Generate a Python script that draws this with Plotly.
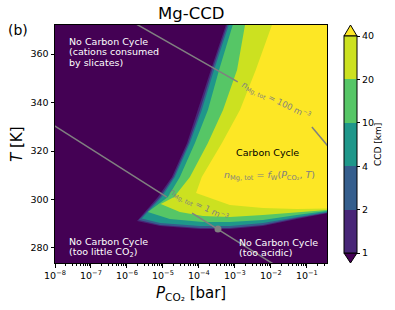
import plotly.graph_objects as go

# ---------------- data ----------------
ccd_levels = [1, 2, 4, 10, 20, 40]
ccd_tick_labels = ["1", "2", "4", "10", "20", "40"]
band_colors = ["#482677", "#355e8d", "#1f978a", "#56c666", "#cce120"]
under_color = "#440154"
over_color = "#fde725"

# boundaries of regions with CCD >= level  (log10 P_CO2 [bar], T [K])
ccd1_logp = [-3.17, -3.25, -3.67, -4.03, -4.33, -4.75, -5.14, -5.72, -5.08, -3.97, -3.14, -2.22, -1.28, -0.08, -0.08]
ccd1_T = [376.1, 372.0, 353.4, 336.9, 323.3, 309.3, 301.0, 291.1, 289.1, 287.8, 287.8, 289.1, 292.0, 295.3, 376.1]
ccd2_logp = [-3.12, -3.21, -3.63, -3.97, -4.29, -4.71, -5.08, -5.67, -5.08, -3.97, -3.14, -2.22, -1.28, -0.08, -0.08]
ccd2_T = [376.1, 372.0, 353.4, 336.9, 323.3, 309.3, 301.0, 291.5, 289.5, 288.2, 288.2, 289.5, 292.4, 295.5, 376.1]
ccd4_logp = [-3.08, -3.17, -3.58, -3.92, -4.25, -4.67, -5.03, -5.59, -5.08, -3.97, -3.14, -2.22, -1.28, -0.08, -0.08]
ccd4_T = [376.1, 372.0, 353.4, 336.9, 323.3, 309.3, 301.0, 292.2, 290.3, 289.1, 289.1, 290.3, 292.8, 295.7, 376.1]
ccd10_logp = [-2.97, -3.06, -3.44, -3.75, -4.11, -4.53, -4.86, -5.42, -4.81, -3.89, -3.14, -2.22, -1.28, -0.08, -0.08]
ccd10_T = [376.1, 372.0, 353.4, 336.9, 323.3, 309.3, 301.0, 294.8, 292.0, 290.7, 290.7, 291.5, 293.6, 295.9, 376.1]
ccd20_logp = [-2.67, -2.72, -2.94, -3.33, -3.75, -4.25, -4.69, -5.06, -4.53, -3.89, -3.14, -2.22, -1.28, -0.08, -0.08]
ccd20_T = [376.1, 372.0, 353.4, 336.9, 323.3, 309.3, 301.0, 298.1, 294.8, 293.2, 292.8, 293.6, 294.8, 296.1, 376.1]
ccd40_logp = [-1.89, -1.97, -2.42, -2.86, -3.36, -3.92, -4.08, -3.56, -3.14, -2.22, -1.28, -0.08, -0.08]
ccd40_T = [376.1, 372.0, 353.4, 336.9, 323.3, 309.3, 302.7, 299.8, 297.7, 296.5, 296.1, 296.3, 376.1]

# n_Mg,tot contour lines (broken where labelled)
nmg100_a_logp = [-6.05, -2.92]
nmg100_a_T = [375.0, 348.5]
nmg100_b_logp = [-0.86, -0.44, -0.40]
nmg100_b_T = [329.9, 322.5, 321.8]
nmg1_a_logp = [-8.2, -4.89]
nmg1_a_T = [332.2, 301.0]
nmg1_b_logp = [-4.19, -1.75]
nmg1_b_T = [294.4, 271.7]
dot_logp = [-3.47]
dot_T = [287.8]

x_tick_exps = [-8, -7, -6, -5, -4, -3, -2, -1]
y_ticks = [280, 300, 320, 340, 360]

# ---------------- layout constants (page pixels) ----------------
W, H = 395, 310
PL, PR, PT, PB = 55, 327, 25, 263
FONT = "DejaVu Sans"
GRAY = "#808080"

def px_x(px):
    return (px - PL) / (PR - PL)

def px_y(py):
    return (PB - py) / (PB - PT)

fig = go.Figure()

regions = [
    (ccd1_logp, ccd1_T, band_colors[0]),
    (ccd2_logp, ccd2_T, band_colors[1]),
    (ccd4_logp, ccd4_T, band_colors[2]),
    (ccd10_logp, ccd10_T, band_colors[3]),
    (ccd20_logp, ccd20_T, band_colors[4]),
    (ccd40_logp, ccd40_T, over_color),
]
for lp, tt, col in regions:
    fig.add_trace(go.Scatter(
        x=[10 ** v for v in lp], y=tt, mode="lines", fill="toself",
        fillcolor=col, line=dict(width=0, color=col), hoverinfo="skip",
        showlegend=False))

for lp, tt in [(nmg100_a_logp, nmg100_a_T), (nmg100_b_logp, nmg100_b_T),
               (nmg1_a_logp, nmg1_a_T), (nmg1_b_logp, nmg1_b_T)]:
    fig.add_trace(go.Scatter(
        x=[10 ** v for v in lp], y=tt, mode="lines",
        line=dict(color=GRAY, width=1.5), hoverinfo="skip", showlegend=False))

fig.add_trace(go.Scatter(
    x=[10 ** v for v in dot_logp], y=dot_T, mode="markers",
    marker=dict(color=GRAY, size=7), hoverinfo="skip", showlegend=False))

# colorbar (equal-spaced bands)
nb = len(band_colors)
cs = []
for i, c in enumerate(band_colors):
    cs.append([i / nb, c])
    cs.append([(i + 1) / nb, c])
cb_top, cb_bot = 36, 253
cb_left, cb_w = 344, 13
fig.add_trace(go.Scatter(
    x=[None], y=[None], mode="markers", showlegend=False, hoverinfo="skip",
    marker=dict(color=[0], cmin=0, cmax=nb, colorscale=cs, showscale=True,
                colorbar=dict(
                    thickness=cb_w, lenmode="pixels", len=cb_bot - cb_top,
                    x=px_x(cb_left), xanchor="left", xpad=0,
                    y=px_y((cb_top + cb_bot) / 2), yanchor="middle", ypad=0,
                    outlinecolor="black", outlinewidth=1,
                    tickmode="array", tickvals=list(range(len(ccd_levels))),
                    ticktext=ccd_tick_labels, ticks="outside", ticklen=3,
                    tickcolor="black", tickfont=dict(size=9.5, family=FONT, color="black"),
                    title=dict(text="", side="right"),
                ))))

shapes = [
    dict(type="path", xref="paper", yref="paper",
         path=f"M {px_x(cb_left)},{px_y(cb_top)} L {px_x(cb_left + cb_w)},{px_y(cb_top)} "
              f"L {px_x(cb_left + cb_w / 2)},{px_y(PT)} Z",
         fillcolor=over_color, line=dict(color="black", width=1)),
    dict(type="path", xref="paper", yref="paper",
         path=f"M {px_x(cb_left)},{px_y(cb_bot)} L {px_x(cb_left + cb_w)},{px_y(cb_bot)} "
              f"L {px_x(cb_left + cb_w / 2)},{px_y(PB)} Z",
         fillcolor=under_color, line=dict(color="black", width=1)),
]

ann = []

def add_lines(lines, x, y, color, xanchor="left", spacing=10.5, size=9.5):
    for i, t in enumerate(lines):
        ann.append(dict(x=x, y=y, xref="x", yref="y", text=t, showarrow=False,
                        xanchor=xanchor, yanchor="middle", yshift=-i * spacing,
                        font=dict(size=size, color=color, family=FONT)))

add_lines(["No Carbon Cycle", "(cations consumed", "by slicates)"], -7.67, 365.2, "white")
add_lines(["No Carbon Cycle", "(too little CO<sub>2</sub>)"], -7.67, 282.5, "white")
add_lines(["No Carbon Cycle", "(too acidic)"], -2.94, 282.3, "white")
add_lines(["Carbon Cycle"], -2.08, 319.6, "black", xanchor="center")
add_lines(["<i>n</i><sub>Mg, tot</sub> = <i>f</i><sub>W</sub>(<i>P</i><sub>CO₂</sub>, <i>T</i>)"],
          -2.03, 310.1, GRAY, xanchor="center")

for x, y, t in [(-1.83, 341.0, "<i>n</i><sub>Mg, tot</sub> = 100 m<sup>−3</sup>"),
                (-4.0, 298.1, "<i>n</i><sub>Mg, tot</sub> = 1 m<sup>−3</sup>")]:
    ann.append(dict(x=x, y=y, xref="x", yref="y", text=t, showarrow=False,
                    textangle=26, xanchor="center", yanchor="middle",
                    font=dict(size=8.5, color=GRAY, family=FONT)))

ann.append(dict(x=0.5, y=px_y(14), xref="paper", yref="paper", text="Mg-CCD",
                showarrow=False, xanchor="center", yanchor="middle",
                font=dict(size=16.5, color="black", family=FONT)))
ann.append(dict(x=px_x(17.5), y=px_y(30), xref="paper", yref="paper", text="(b)",
                showarrow=False, xanchor="center", yanchor="middle",
                font=dict(size=14, color="black", family=FONT)))
ann.append(dict(x=px_x(191), y=px_y(293), xref="paper", yref="paper",
                text="<i>P</i><sub>CO₂</sub> [bar]", showarrow=False,
                xanchor="center", yanchor="middle",
                font=dict(size=15, color="black", family=FONT)))
ann.append(dict(x=px_x(17), y=px_y(145), xref="paper", yref="paper",
                text="<i>T</i> [K]", showarrow=False, textangle=-90,
                xanchor="center", yanchor="middle",
                font=dict(size=15, color="black", family=FONT)))
ann.append(dict(x=px_x(378), y=px_y(145), xref="paper", yref="paper",
                text="CCD [km]", showarrow=False, textangle=-90,
                xanchor="center", yanchor="middle",
                font=dict(size=9, color="black", family=FONT)))

minor_vals = [k * 10.0 ** e for e in x_tick_exps + [0] for k in range(2, 10)]

fig.update_layout(
    width=W, height=H,
    margin=dict(l=PL, r=W - PR, t=PT, b=H - PB, pad=0),
    paper_bgcolor="white", plot_bgcolor=under_color,
    font=dict(family=FONT, color="black"),
    showlegend=False,
    shapes=shapes, annotations=ann,
    xaxis=dict(type="log", range=[-8, -0.44],
               tickmode="array", tickvals=[10.0 ** e for e in x_tick_exps],
               ticktext=[f"10<sup>−{-e}</sup>" for e in x_tick_exps],
               ticks="outside", ticklen=3.5, tickcolor="black",
               tickfont=dict(size=9.5, family=FONT, color="black"),
               showline=True, linecolor="black", linewidth=1, mirror=True,
               showgrid=False, zeroline=False,
               minor=dict(tickmode="array", tickvals=minor_vals, ticks="outside",
                          ticklen=2, tickcolor="black", showgrid=False)),
    yaxis=dict(range=[273.8, 372], tickmode="array", tickvals=y_ticks,
               ticks="outside", ticklen=3.5, tickcolor="black",
               tickfont=dict(size=9.5, family=FONT, color="black"),
               showline=True, linecolor="black", linewidth=1, mirror=True,
               showgrid=False, zeroline=False),
)

fig.write_html("out.html",
               config={"displayModeBar": False, "staticPlot": True},
               post_script="document.body.style.margin='0px';document.body.style.overflow='hidden';")
